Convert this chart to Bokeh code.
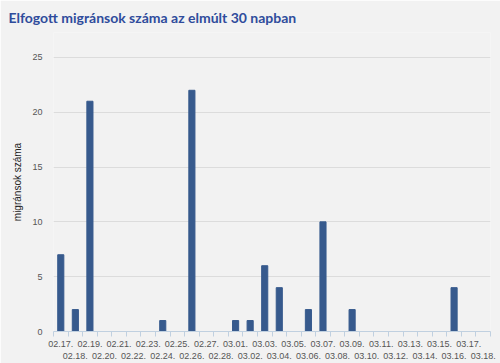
from bokeh.plotting import figure
from bokeh.models import FixedTicker, Range1d, Title
from bokeh.embed import file_html
from bokeh.resources import INLINE

dates = ["02.17.", "02.18.", "02.19.", "02.20.", "02.21.", "02.22.", "02.23.", "02.24.",
         "02.25.", "02.26.", "02.27.", "02.28.", "03.01.", "03.02.", "03.03.", "03.04.",
         "03.05.", "03.06.", "03.07.", "03.08.", "03.09.", "03.10.", "03.11.", "03.12.",
         "03.13.", "03.14.", "03.15.", "03.16.", "03.17.", "03.18."]
counts = [7, 2, 21, 0, 0, 0, 0, 1, 0, 22, 0, 0, 1, 1, 6, 4, 0, 2, 10, 0, 2, 0, 0, 0,
          0, 0, 0, 4, 0, 0]
y_ticks = [0, 5, 10, 15, 20, 25]

n = len(dates)
xs = list(range(n))

p = figure(width=500, height=363, output_backend="svg", toolbar_location=None,
           x_range=Range1d(-0.5, n - 0.5), y_range=Range1d(0, 27.27))
p.background_fill_color = "#f2f2f2"
p.border_fill_color = "#f2f2f2"
p.outline_line_color = None
p.min_border_left = 53
p.min_border_right = 10
p.min_border_bottom = 0
p.min_border_top = 0

p.title = Title(text="Elfogott migránsok száma az elmúlt 30 napban",
                text_font="Lato", text_font_size="14px", text_font_style="bold",
                text_color="#2f4c9c", standoff=13, offset=-45)

p.vbar(x=xs, top=counts, width=0.42, fill_color="#375a8d", line_color="#375a8d")

# x axis
xa = p.xaxis[0]
xa.ticker = FixedTicker(ticks=xs, minor_ticks=[i - 0.5 for i in range(n + 1)])
xa.major_label_overrides = {i: (d if i % 2 == 0 else "\n" + d) for i, d in enumerate(dates)}
xa.major_tick_out = 0
xa.major_tick_in = 0
xa.minor_tick_out = 5
xa.minor_tick_in = 0
xa.minor_tick_line_color = "#c0d0e0"
xa.axis_line_color = "#c0d0e0"
xa.major_label_text_font = "Liberation Sans"
xa.major_label_text_font_size = "9px"
xa.major_label_text_color = "#555555"
xa.major_label_standoff = 2
p.xgrid.grid_line_color = None

# y axis
ya = p.yaxis[0]
ya.ticker = FixedTicker(ticks=y_ticks)
ya.axis_line_color = None
ya.major_tick_line_color = None
ya.minor_tick_line_color = None
ya.major_label_text_font = "Liberation Sans"
ya.major_label_text_font_size = "9px"
ya.major_label_text_color = "#555555"
ya.axis_label = "migránsok száma"
ya.axis_label_text_font = "Liberation Sans"
ya.axis_label_text_font_size = "10px"
ya.axis_label_text_font_style = "normal"
ya.axis_label_text_color = "#222222"
ya.axis_label_standoff = 6
p.ygrid.grid_line_color = "#dcdcdc"
p.ygrid.grid_line_width = 1

open("out.html", "w").write(file_html(p, INLINE))
